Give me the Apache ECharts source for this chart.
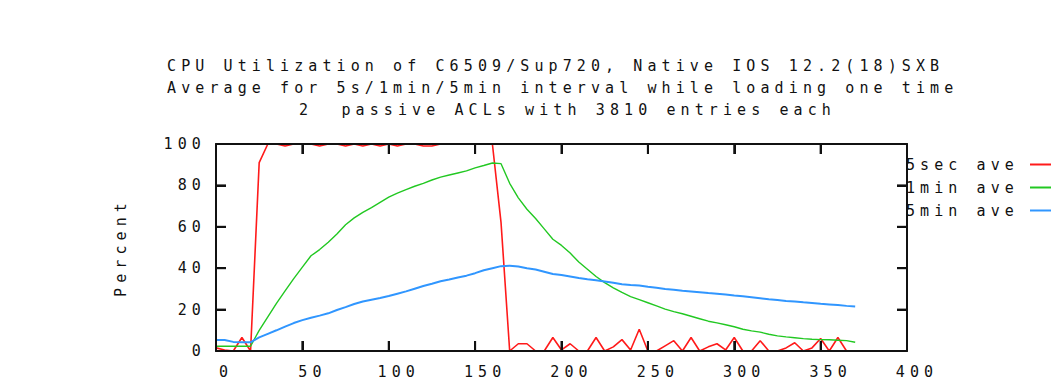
<!DOCTYPE html>
<html>
<head>
<meta charset="utf-8">
<script src="https://cdn.jsdelivr.net/npm/echarts@6.0.0/dist/echarts.min.js"></script>
<style>
  html, body { margin: 0; padding: 0; background: #fff; }
  #chart { width: 1051px; height: 384px; }
  /* wide-set terminal lettering */
  #chart text { letter-spacing: 5.1px; }
</style>
</head>
<body>
<div id="chart"></div>
<script>
// Elapsed time (seconds) of each sample
const seconds = [
  0, 5, 10, 15, 20, 25, 30, 35, 40, 45, 50, 55, 60, 65, 70, 75, 80, 85, 90, 95,
  100, 105, 110, 115, 120, 125, 130, 135, 140, 145, 150, 155, 160, 165, 170, 175, 180, 185, 190, 195,
  200, 205, 210, 215, 220, 225, 230, 235, 240, 245, 250, 255, 260, 265, 270, 275, 280, 285, 290, 295,
  300, 305, 310, 315, 320, 325, 330, 335, 340, 345, 350, 355, 360, 365, 370
];

// 5 second average CPU (%), last sample at 365 s
const ave5sec = [
  1.5, 0.5, 0, 6.5, 0, 91, 100, 100, 99, 100, 100, 100, 99, 100, 100, 99, 100, 99, 100, 99,
  100, 99, 100, 100, 99, 99, 100, 100, 100, 100, 100, 100, 100, 62, 0, 3.5, 3.5, 0, 0, 6.5,
  0.5, 3.5, 0, 0, 6.5, 0, 2, 5.5, 0.5, 10.5, 0, 0, 2.5, 5, 0, 6.5, 0, 2, 3.5, 0.5,
  6.5, 0, 0, 5, 0, 0, 1.5, 4, 0, 1.5, 6, 0, 6.5, 0
];

// 1 minute average CPU (%)
const ave1min = [
  2.3, 2.3, 2.3, 2.3, 2.3, 10, 16.5, 23, 29, 35, 40.5, 46, 49, 52.5, 56.5, 61, 64.3, 67, 69.3, 71.8,
  74.3, 76.3, 78, 79.6, 81, 82.6, 84, 85, 86, 87, 88.5, 89.6, 90.8, 90.5, 81, 74, 68.5, 64, 59, 54,
  51, 47.3, 43, 39.5, 36, 33, 30.5, 28.3, 26.3, 24.8, 23.3, 21.8, 20.2, 19, 18, 16.8, 15.6, 14.4, 13.6, 12.7,
  11.7, 10.5, 9.7, 9.1, 8.1, 7.3, 6.8, 6.4, 6, 5.7, 5.5, 5.4, 5.2, 5, 4.2
];

// 5 minute average CPU (%)
const ave5min = [
  5.3, 5.3, 4.4, 4.2, 4.2, 6.6, 8.3, 10, 11.8, 13.5, 14.9, 16.1, 17.1, 18.2, 19.8, 21.2, 22.7, 23.9, 24.8, 25.6,
  26.6, 27.7, 28.8, 30.1, 31.4, 32.5, 33.7, 34.5, 35.5, 36.4, 37.6, 39, 40, 41, 41.2, 40.8, 40, 39.4, 38.3, 37.2,
  36.7, 36, 35.3, 34.7, 34.2, 33.6, 33, 32.3, 31.9, 31.6, 31, 30.5, 30, 29.6, 29.1, 28.8, 28.4, 28, 27.7, 27.3,
  26.8, 26.4, 26, 25.5, 25, 24.6, 24.2, 23.9, 23.5, 23.2, 22.8, 22.5, 22.2, 21.8, 21.5
];

// Inner tick marks on the frame (mirrored on opposite sides)
const xTickValues = [50, 100, 150, 200, 250, 300, 350];
const yTickValues = [20, 40, 60, 80];

const seriesNames = ['5sec ave', '1min ave', '5min ave'];
const titleLines = [
  'CPU Utilization of C6509/Sup720, Native IOS 12.2(18)SXB',
  'Average for 5s/1min/5min interval while loading one time',
  '2  passive ACLs with 3810 entries each'
];
const yAxisTitle = 'Percent';

const FONT = '"DejaVu Sans Mono", monospace';
const FONT_SIZE = 15;
const INK = '#111';
const FRAME = '#111';
const TICK_LEN = 10;
const X_MAX = 400;
const Y_MAX = 100;

function pairs(values) {
  return values.map((v, i) => [seconds[i], v]);
}

// Each axis gets its own fresh option objects; the frame is drawn above the lines.
function frameAxis(position, max, interval, extra) {
  return Object.assign({
    type: 'value',
    position: position,
    min: 0, max: max, interval: interval,
    z: 5,
    splitLine: { show: false },
    axisLine: { show: true, onZero: false, lineStyle: { color: FRAME, width: 2 } },
    axisTick: { show: true, inside: true, length: TICK_LEN, lineStyle: { color: FRAME, width: 2 } },
    axisLabel: { show: false }
  }, extra || {});
}

const chart = echarts.init(document.getElementById('chart'), null, { renderer: 'svg' });

chart.setOption({
  animation: false,
  backgroundColor: '#fff',
  title: [
    {
      text: titleLines[0] + '\n' + titleLines[1],
      left: 167, top: 55, padding: 0,
      textStyle: { fontFamily: FONT, fontSize: FONT_SIZE, fontWeight: 'normal', color: INK, lineHeight: 22 }
    },
    {
      text: titleLines[2],
      left: 299, top: 99, padding: 0,
      textStyle: { fontFamily: FONT, fontSize: FONT_SIZE, fontWeight: 'normal', color: INK, lineHeight: 22 }
    }
  ],
  legend: {
    orient: 'vertical',
    left: 900, top: 157,
    align: 'right',
    icon: 'rect',
    itemWidth: 32, itemHeight: 2, itemGap: 8,
    padding: 0,
    selectedMode: false,
    textStyle: { fontFamily: FONT, fontSize: FONT_SIZE, color: INK, width: 119, lineHeight: 14, padding: [0, 6, 0, 0] },
    data: seriesNames
  },
  grid: { left: 216, top: 144, right: 144, bottom: 33 },
  xAxis: [
    frameAxis('bottom', X_MAX, 50, {
      axisLabel: { show: true, color: INK, fontFamily: FONT, fontSize: FONT_SIZE, margin: 13, padding: [0, 0, 0, 20] }
    }),
    frameAxis('top', X_MAX, 50)
  ],
  yAxis: [
    frameAxis('left', Y_MAX, 20, {
      name: yAxisTitle, nameLocation: 'middle', nameGap: 88, nameRotate: 90,
      nameTextStyle: { color: INK, fontFamily: FONT, fontSize: FONT_SIZE },
      axisLabel: { show: true, color: INK, fontFamily: FONT, fontSize: FONT_SIZE, margin: 10 }
    }),
    frameAxis('right', Y_MAX, 20)
  ],
  series: [
    {
      name: seriesNames[0], type: 'line', data: pairs(ave5sec),
      showSymbol: false, z: 2,
      color: '#ff1a1a', lineStyle: { color: '#ff1a1a', width: 1.6 }
    },
    {
      name: seriesNames[1], type: 'line', data: pairs(ave1min),
      showSymbol: false, z: 2,
      color: '#22c822', lineStyle: { color: '#22c822', width: 1.4 }
    },
    {
      name: seriesNames[2], type: 'line', data: pairs(ave5min),
      showSymbol: false, z: 2,
      color: '#3096ff', lineStyle: { color: '#3096ff', width: 2 }
    }
  ]
});

// Frame tick marks as thin filled bars, placed through the grid's coordinate conversion
function tickBar(x, y, w, h) {
  return {
    type: 'rect', z: 100,
    shape: { x: x, y: y, width: w, height: h },
    style: { fill: FRAME }
  };
}
const tickMarks = [];
xTickValues.forEach(v => {
  const b = chart.convertToPixel({ gridIndex: 0 }, [v, 0]);
  const t = chart.convertToPixel({ gridIndex: 0 }, [v, Y_MAX]);
  tickMarks.push(tickBar(b[0] - 1, b[1] - TICK_LEN, 2, TICK_LEN));
  tickMarks.push(tickBar(t[0] - 1, t[1], 2, TICK_LEN));
});
yTickValues.forEach(v => {
  const l = chart.convertToPixel({ gridIndex: 0 }, [0, v]);
  const r = chart.convertToPixel({ gridIndex: 0 }, [X_MAX, v]);
  tickMarks.push(tickBar(l[0], l[1] - 1, TICK_LEN, 2));
  tickMarks.push(tickBar(r[0] - TICK_LEN, r[1] - 1, TICK_LEN, 2));
});
chart.setOption({ graphic: tickMarks });
</script>
</body>
</html>
